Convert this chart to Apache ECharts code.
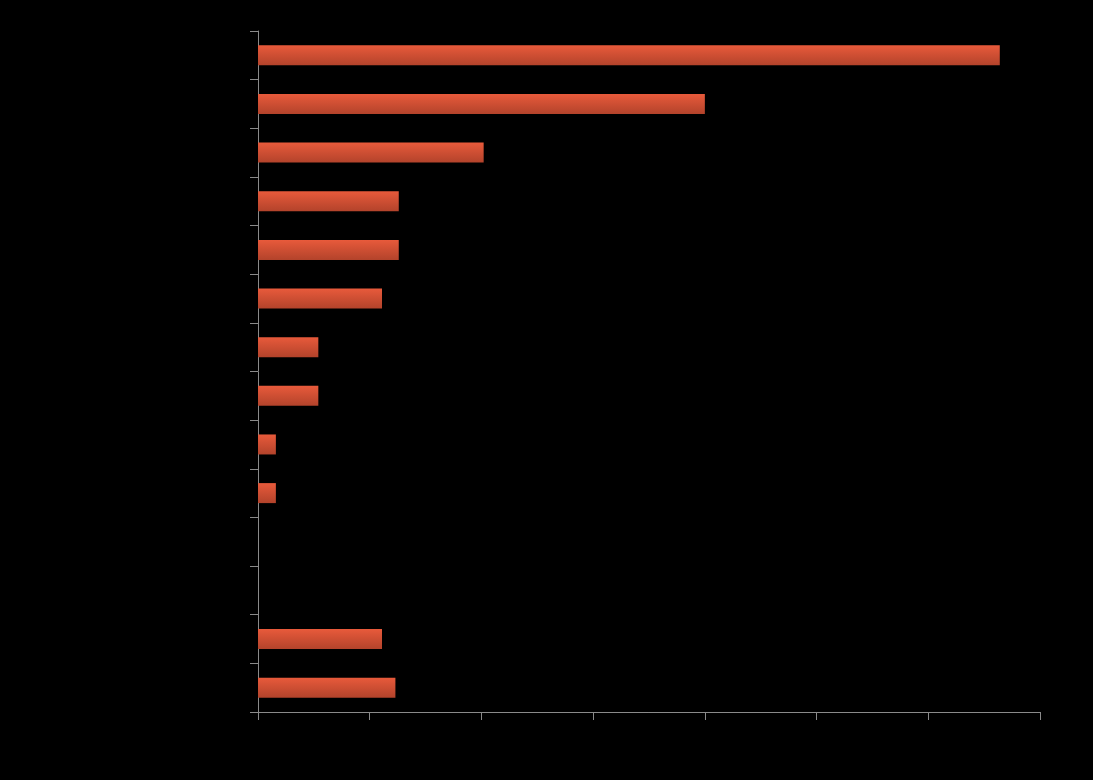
<!DOCTYPE html>
<html>
<head>
<meta charset="utf-8">
<script src="https://cdn.jsdelivr.net/npm/echarts@6/dist/echarts.min.js"></script>
<style>
html,body{margin:0;padding:0;background:#000;}
#chart{width:1093px;height:780px;}
</style>
</head>
<body>
<div id="chart"></div>
<script>
const categories = ['1','2','3','4','5','6','7','8','9','10','11','12','13','14'];
const values = [33.2, 20.0, 10.1, 6.3, 6.3, 5.55, 2.7, 2.7, 0.8, 0.8, 0, 0, 5.55, 6.15];
const xMin = 0, xMax = 35, xInterval = 5;

const chart = echarts.init(document.getElementById('chart'));
chart.setOption({
  backgroundColor: '#000000',
  animation: false,
  grid: { left: 258, right: 53, top: 31, bottom: 68, containLabel: false },
  xAxis: {
    type: 'value', min: xMin, max: xMax, interval: xInterval,
    axisLine: { show: true, lineStyle: { color: '#8a8a8a', width: 1 } },
    axisTick: { show: true, length: 8, lineStyle: { color: '#8a8a8a' } },
    axisLabel: { show: false },
    splitLine: { show: false }
  },
  yAxis: {
    type: 'category', data: categories, inverse: true,
    axisLine: { show: true, lineStyle: { color: '#8a8a8a', width: 1 } },
    axisTick: { show: true, length: 8, alignWithLabel: false, lineStyle: { color: '#8a8a8a' } },
    axisLabel: { show: false },
    splitLine: { show: false }
  },
  series: [{
    type: 'bar',
    data: values,
    barWidth: 20,
    itemStyle: {
      color: new echarts.graphic.LinearGradient(0, 0, 0, 1, [
        { offset: 0, color: '#e85a3b' },
        { offset: 1, color: '#b3432b' }
      ])
    }
  }]
});
</script>
</body>
</html>
